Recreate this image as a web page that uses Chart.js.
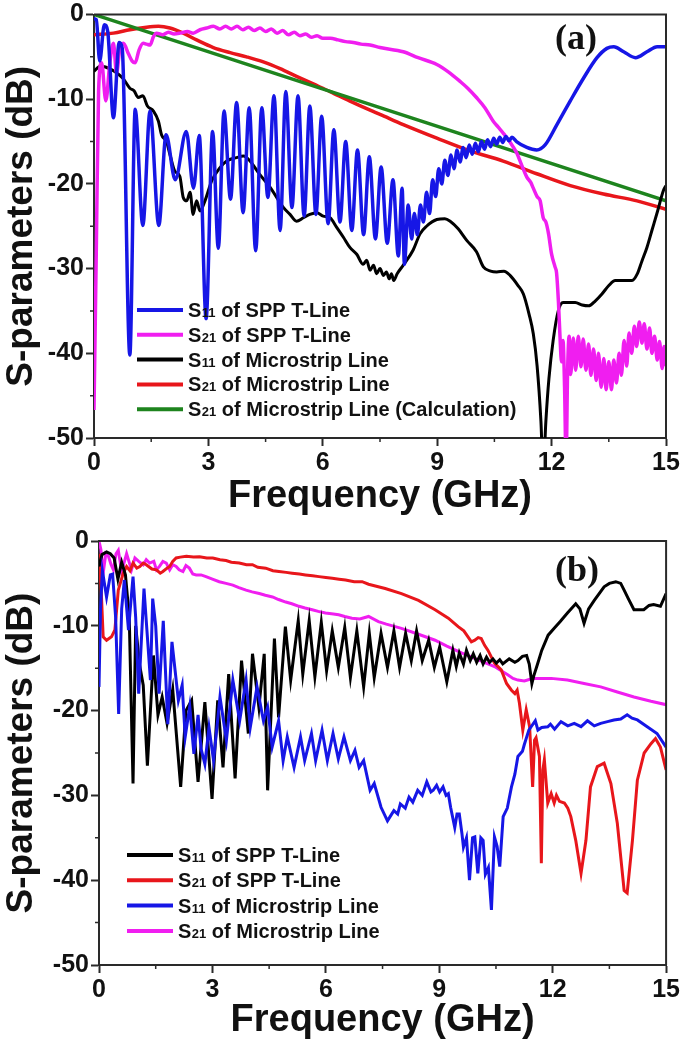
<!DOCTYPE html>
<html>
<head>
<meta charset="utf-8">
<script src="https://cdn.jsdelivr.net/npm/chart.js@4.4.1/dist/chart.umd.min.js"></script>
<style>
  html, body { margin: 0; padding: 0; background: #fff; }
  #wrap { position: relative; width: 685px; height: 1044px; }
  #chartA { position: absolute; left: 0; top: 0; }
  #chartB { position: absolute; left: 0; top: 520px; }
</style>
</head>
<body>
<div id="wrap">
  <canvas id="chartA" width="685" height="520"></canvas>
  <canvas id="chartB" width="685" height="524"></canvas>
</div>
<script>
// axis ticks
const xTicks = [0, 3, 6, 9, 12, 15];
const yTicks = [0, -10, -20, -30, -40, -50];
const xMinor = [1.5, 4.5, 7.5, 10.5, 13.5];
const yMinor = [-5, -15, -25, -35, -45];

// legend text: "S" + subscript + rest
const legendSubA = ["11", "21", "11", "21", "21"];
const legendRestA = [" of SPP T-Line", " of SPP T-Line", " of Microstrip Line", " of Microstrip Line", " of Microstrip Line (Calculation)"];
const legendSubB = ["11", "21", "11", "21"];
const legendRestB = [" of SPP T-Line", " of SPP T-Line", " of Microstrip Line", " of Microstrip Line"];

// ---- panel (a) : [GHz, dB]
const aS11Spp = [[0.00,-0.5],[0.06,-0.6],[0.15,-5.5],[0.27,-1.2],[0.36,-2.0],[0.51,-12.2],[0.66,-3.3],[0.74,-4.0],[0.94,-40.2],[1.08,-11.2],[1.28,-24.9],[1.47,-11.4],[1.70,-24.9],[1.89,-14.2],[2.13,-19.5],[2.42,-13.8],[2.61,-20.5],[2.76,-14.3],[2.94,-35.9],[3.11,-13.8],[3.26,-27.6],[3.41,-11.4],[3.58,-21.8],[3.74,-10.4],[3.91,-23.4],[4.07,-11.0],[4.24,-27.9],[4.40,-11.0],[4.56,-21.6],[4.72,-9.6],[4.88,-25.5],[5.03,-9.1],[5.19,-22.8],[5.35,-9.6],[5.51,-23.8],[5.66,-10.8],[5.82,-23.6],[5.97,-12.0],[6.14,-24.7],[6.29,-13.6],[6.45,-24.5],[6.60,-15.0],[6.76,-25.5],[6.91,-16.0],[7.07,-26.0],[7.22,-16.8],[7.38,-26.5],[7.53,-18.0],[7.69,-27.0],[7.84,-19.5],[7.98,-28.5],[8.08,-20.5],[8.14,-29.5],[8.24,-22.5],[8.33,-26.5],[8.40,-23.5],[8.48,-26.0],[8.56,-22.5],[8.64,-24.5],[8.72,-21.0],[8.80,-23.5],[8.88,-19.5],[8.96,-21.5],[9.04,-18.2],[9.12,-20.0],[9.20,-17.2],[9.28,-19.0],[9.36,-16.6],[9.44,-18.2],[9.52,-16.0],[9.60,-17.4],[9.68,-15.7],[9.76,-16.9],[9.84,-15.4],[9.92,-16.5],[10.00,-15.2],[10.08,-16.2],[10.16,-15.0],[10.24,-15.9],[10.32,-14.8],[10.40,-15.6],[10.48,-14.6],[10.56,-15.3],[10.64,-14.5],[10.72,-15.1],[10.80,-14.4],[10.88,-14.9],[10.96,-14.5],[11.08,-15.0],[11.35,-15.7],[11.61,-16.0],[11.83,-15.4],[12.14,-13.0],[12.49,-10.2],[12.84,-7.5],[13.19,-5.1],[13.45,-4.0],[13.63,-3.8],[13.89,-4.4],[14.20,-5.1],[14.50,-4.4],[14.77,-3.8],[15.00,-3.8]];

const aS21Spp = [[0.00,-46.7],[0.06,-28.0],[0.12,-9.0],[0.20,-5.7],[0.31,-10.2],[0.42,-5.5],[0.51,-3.4],[0.59,-6.9],[0.68,-4.0],[0.77,-3.4],[0.90,-4.6],[1.00,-5.5],[1.08,-5.7],[1.18,-4.2],[1.29,-3.4],[1.38,-3.5],[1.47,-3.6],[1.56,-2.6],[1.64,-2.2],[1.80,-2.4],[1.95,-2.1],[2.10,-2.3],[2.26,-2.2],[2.45,-2.0],[2.60,-2.2],[2.78,-1.8],[2.95,-1.6],[3.13,-1.4],[3.30,-1.7],[3.45,-1.4],[3.60,-1.7],[3.75,-1.4],[3.90,-1.8],[4.05,-1.5],[4.20,-1.9],[4.35,-1.6],[4.50,-2.0],[4.65,-1.7],[4.80,-2.2],[4.95,-1.9],[5.10,-2.4],[5.25,-2.1],[5.40,-2.5],[5.55,-2.3],[5.70,-2.7],[5.85,-2.5],[6.00,-2.8],[6.20,-2.8],[6.40,-3.0],[6.60,-3.2],[6.80,-3.3],[7.00,-3.5],[7.24,-3.6],[7.50,-3.9],[8.11,-4.4],[8.50,-5.1],[8.99,-5.9],[9.30,-6.8],[9.60,-7.9],[9.80,-8.7],[10.03,-9.8],[10.25,-11.0],[10.47,-12.6],[10.60,-13.3],[10.73,-14.0],[10.90,-15.0],[11.08,-16.3],[11.20,-17.6],[11.35,-19.2],[11.45,-19.8],[11.52,-20.5],[11.62,-21.5],[11.70,-22.0],[11.78,-24.0],[11.85,-24.5],[11.92,-25.9],[12.00,-28.3],[12.09,-29.8],[12.13,-30.5],[12.18,-34.0],[12.22,-38.0],[12.26,-41.0],[12.30,-38.5],[12.34,-44.0],[12.38,-53.0],[12.42,-42.0],[12.46,-38.0],[12.50,-42.5],[12.57,-38.2],[12.63,-42.0],[12.70,-38.0],[12.77,-41.6],[12.83,-38.3],[12.90,-42.0],[12.97,-38.9],[13.03,-42.6],[13.10,-39.5],[13.17,-43.2],[13.23,-40.0],[13.30,-44.0],[13.37,-40.6],[13.43,-44.3],[13.50,-41.0],[13.57,-44.3],[13.63,-40.8],[13.70,-43.5],[13.77,-40.0],[13.83,-42.6],[13.90,-38.5],[13.97,-41.5],[14.03,-37.6],[14.10,-40.0],[14.17,-36.8],[14.23,-39.2],[14.30,-36.3],[14.37,-38.8],[14.43,-36.5],[14.50,-39.5],[14.57,-37.0],[14.63,-40.0],[14.70,-38.0],[14.77,-40.8],[14.83,-38.6],[14.90,-41.8],[14.95,-39.2],[15.00,-41.5]];

const aS11Ms = [[0.00,-6.7],[0.16,-6.1],[0.30,-6.2],[0.45,-6.5],[0.60,-6.9],[0.77,-7.6],[0.94,-8.7],[1.05,-9.0],[1.16,-9.8],[1.28,-9.6],[1.40,-10.8],[1.56,-11.4],[1.69,-12.6],[1.77,-14.2],[1.90,-15.0],[1.99,-16.5],[2.12,-18.5],[2.25,-19.1],[2.34,-21.6],[2.43,-22.0],[2.52,-21.0],[2.60,-23.6],[2.69,-22.0],[2.78,-23.2],[2.91,-22.0],[3.09,-19.6],[3.30,-18.1],[3.48,-17.3],[3.74,-16.9],[3.92,-16.7],[4.09,-17.3],[4.35,-18.9],[4.62,-20.4],[4.79,-21.6],[4.97,-22.8],[5.14,-23.6],[5.31,-24.4],[5.49,-24.0],[5.66,-23.6],[5.84,-23.4],[6.01,-23.8],[6.19,-24.0],[6.36,-25.1],[6.54,-26.3],[6.71,-27.5],[6.89,-28.3],[7.06,-29.5],[7.15,-29.0],[7.24,-30.2],[7.33,-29.6],[7.41,-30.6],[7.50,-30.0],[7.59,-30.8],[7.67,-30.4],[7.74,-31.2],[7.80,-30.6],[7.86,-31.4],[7.95,-30.6],[8.11,-29.6],[8.37,-27.8],[8.55,-25.9],[8.72,-25.0],[8.99,-24.2],[9.20,-24.1],[9.34,-24.4],[9.55,-25.3],[9.78,-26.7],[10.03,-28.0],[10.21,-29.8],[10.40,-30.3],[10.56,-30.4],[10.75,-30.3],[10.91,-30.8],[11.12,-32.0],[11.26,-33.0],[11.41,-35.4],[11.52,-37.7],[11.62,-41.5],[11.72,-48.0],[11.78,-54.0],[11.85,-48.0],[11.93,-43.0],[12.04,-38.5],[12.18,-34.9],[12.30,-34.0],[12.44,-34.0],[12.62,-34.0],[12.80,-34.3],[12.97,-34.4],[13.15,-33.8],[13.32,-33.0],[13.50,-32.0],[13.67,-31.4],[13.90,-31.4],[14.11,-31.4],[14.25,-30.6],[14.37,-29.1],[14.50,-27.5],[14.63,-25.5],[14.78,-23.2],[14.93,-20.8],[15.00,-20.2]];

const aS21Ms = [[0.00,-2.4],[0.51,-2.2],[0.94,-1.8],[1.38,-1.5],[1.69,-1.4],[1.99,-1.6],[2.34,-2.2],[2.69,-3.0],[3.13,-3.9],[3.57,-4.5],[4.00,-5.0],[4.44,-5.6],[4.88,-6.4],[5.31,-7.3],[5.75,-8.2],[6.19,-9.1],[6.70,-10.2],[7.24,-11.3],[7.50,-11.8],[8.11,-13.0],[8.99,-14.6],[9.86,-16.1],[10.73,-17.3],[11.61,-18.8],[12.49,-20.2],[13.36,-21.2],[14.24,-22.0],[15.00,-23.0]];

const aS21Calc = [[0.00,0.0],[7.50,-11.0],[15.00,-22.0]];

// ---- panel (b) : [GHz, dB]
const bS11Spp = [[0.00,-3.0],[0.08,-1.6],[0.20,-1.3],[0.30,-1.5],[0.40,-2.0],[0.50,-4.5],[0.60,-2.5],[0.70,-4.0],[0.80,-9.0],[0.90,-28.6],[0.97,-10.0],[1.07,-14.5],[1.17,-17.0],[1.28,-26.5],[1.44,-13.5],[1.56,-20.5],[1.67,-18.4],[1.80,-21.5],[1.95,-17.5],[2.16,-29.0],[2.30,-20.0],[2.45,-18.8],[2.62,-28.4],[2.80,-19.0],[2.99,-30.4],[3.14,-18.8],[3.28,-26.7],[3.43,-15.7],[3.60,-28.0],[3.77,-14.1],[3.95,-22.7],[4.06,-13.3],[4.23,-19.6],[4.37,-13.3],[4.46,-29.4],[4.64,-11.5],[4.75,-20.8],[4.93,-10.1],[5.07,-16.4],[5.27,-9.4],[5.39,-15.7],[5.56,-9.4],[5.71,-16.0],[5.88,-9.6],[6.02,-15.3],[6.17,-10.6],[6.33,-14.9],[6.50,-10.2],[6.65,-16.1],[6.82,-10.6],[7.00,-17.2],[7.15,-10.9],[7.28,-16.1],[7.46,-10.9],[7.63,-14.9],[7.80,-10.6],[7.95,-14.9],[8.11,-10.9],[8.26,-14.1],[8.40,-10.6],[8.55,-14.1],[8.72,-11.7],[8.87,-14.9],[9.01,-12.5],[9.20,-16.6],[9.36,-12.9],[9.45,-14.8],[9.53,-13.2],[9.64,-14.5],[9.72,-12.9],[9.82,-14.1],[9.90,-13.3],[9.99,-14.3],[10.08,-13.5],[10.16,-14.5],[10.25,-13.7],[10.33,-14.3],[10.42,-13.9],[10.51,-14.4],[10.60,-14.0],[10.68,-14.5],[10.85,-13.9],[11.00,-14.3],[11.08,-14.1],[11.20,-13.6],[11.31,-13.5],[11.38,-14.5],[11.45,-16.8],[11.50,-15.9],[11.60,-14.5],[11.71,-12.9],[11.88,-11.1],[12.04,-10.3],[12.20,-9.5],[12.39,-8.5],[12.61,-7.4],[12.72,-8.0],[12.83,-9.7],[12.95,-8.0],[13.10,-7.0],[13.36,-5.4],[13.50,-5.0],[13.67,-4.8],[13.80,-5.0],[13.89,-5.8],[14.00,-6.8],[14.15,-8.1],[14.41,-8.1],[14.55,-7.6],[14.67,-7.5],[14.85,-7.7],[15.00,-6.2]];

const bS21Spp = [[0.00,-1.5],[0.06,-6.0],[0.11,-11.3],[0.20,-11.7],[0.33,-11.3],[0.42,-10.5],[0.51,-5.8],[0.64,-3.8],[0.73,-3.0],[0.82,-3.5],[0.90,-2.6],[1.00,-3.2],[1.08,-3.0],[1.17,-2.6],[1.25,-2.8],[1.40,-3.3],[1.52,-3.4],[1.62,-3.8],[1.69,-3.6],[1.80,-3.2],[1.87,-3.0],[1.95,-2.4],[2.04,-2.0],[2.15,-1.9],[2.31,-1.8],[2.50,-1.9],[2.66,-1.85],[2.85,-2.0],[3.01,-2.0],[3.20,-2.2],[3.36,-2.3],[3.50,-2.5],[3.71,-2.6],[3.90,-2.8],[4.06,-2.8],[4.20,-3.1],[4.41,-3.2],[4.60,-3.5],[4.76,-3.6],[4.95,-3.7],[5.11,-3.8],[5.30,-3.9],[5.46,-4.0],[5.65,-4.1],[5.82,-4.2],[6.00,-4.3],[6.17,-4.4],[6.35,-4.5],[6.52,-4.6],[6.75,-4.8],[6.96,-4.8],[7.13,-5.1],[7.31,-5.3],[7.57,-5.6],[8.00,-6.2],[8.45,-7.0],[8.89,-8.1],[9.24,-9.1],[9.50,-10.1],[9.65,-10.6],[9.76,-11.3],[9.85,-11.9],[9.94,-11.7],[10.03,-11.4],[10.11,-11.5],[10.20,-12.3],[10.29,-12.9],[10.46,-14.4],[10.64,-15.2],[10.78,-16.8],[10.91,-17.6],[11.00,-18.0],[11.06,-17.6],[11.12,-19.1],[11.21,-22.3],[11.30,-19.9],[11.39,-21.9],[11.47,-29.0],[11.52,-23.5],[11.56,-23.2],[11.65,-25.4],[11.70,-38.0],[11.74,-27.0],[11.78,-25.8],[11.87,-30.9],[11.96,-29.8],[12.04,-30.9],[12.10,-30.0],[12.18,-30.7],[12.31,-30.9],[12.40,-31.5],[12.48,-32.5],[12.61,-35.3],[12.75,-39.2],[12.88,-35.3],[13.00,-29.0],[13.18,-26.6],[13.36,-26.2],[13.54,-28.6],[13.71,-33.3],[13.89,-41.2],[13.97,-41.5],[14.11,-35.3],[14.24,-28.2],[14.42,-25.0],[14.60,-23.9],[14.72,-23.3],[14.85,-24.3],[15.00,-27.0]];

const bS11Ms = [[0.00,-17.2],[0.04,-8.0],[0.09,-3.5],[0.20,-6.6],[0.30,-4.0],[0.36,-3.9],[0.44,-9.0],[0.52,-20.4],[0.60,-8.0],[0.67,-4.6],[0.78,-10.5],[0.90,-4.2],[0.97,-9.0],[1.05,-18.0],[1.19,-5.6],[1.36,-16.4],[1.42,-6.8],[1.50,-10.0],[1.59,-18.0],[1.70,-9.4],[1.82,-21.6],[1.93,-11.9],[2.10,-18.8],[2.20,-17.0],[2.28,-23.1],[2.40,-19.5],[2.51,-25.1],[2.62,-20.5],[2.70,-24.5],[2.80,-26.3],[2.91,-22.0],[3.03,-25.9],[3.20,-18.4],[3.37,-23.5],[3.54,-16.4],[3.72,-21.2],[3.89,-16.4],[4.00,-22.0],[4.18,-17.2],[4.35,-21.2],[4.46,-19.6],[4.58,-24.3],[4.75,-21.2],[4.87,-25.9],[4.98,-23.1],[5.16,-26.7],[5.33,-23.1],[5.44,-25.9],[5.62,-22.7],[5.73,-25.9],[5.90,-22.3],[6.04,-25.9],[6.19,-22.7],[6.33,-25.7],[6.48,-23.1],[6.65,-25.9],[6.77,-24.7],[6.88,-26.7],[7.00,-25.9],[7.17,-29.4],[7.28,-28.6],[7.46,-31.4],[7.63,-33.0],[7.70,-32.5],[7.80,-31.8],[7.90,-32.2],[7.97,-31.0],[8.10,-31.5],[8.20,-30.2],[8.30,-30.8],[8.43,-29.4],[8.55,-30.0],[8.67,-28.4],[8.78,-29.6],[8.84,-29.4],[8.93,-28.8],[9.01,-29.6],[9.10,-29.0],[9.18,-30.0],[9.24,-29.8],[9.30,-31.4],[9.41,-33.8],[9.47,-32.2],[9.53,-32.2],[9.60,-34.5],[9.64,-36.1],[9.72,-35.0],[9.80,-40.0],[9.88,-35.0],[9.94,-34.9],[10.02,-39.2],[10.10,-35.0],[10.16,-35.3],[10.22,-39.3],[10.30,-38.5],[10.38,-43.5],[10.46,-34.9],[10.53,-36.0],[10.60,-38.4],[10.69,-32.5],[10.80,-31.5],[10.91,-29.0],[11.00,-27.5],[11.08,-25.4],[11.20,-24.8],[11.25,-24.0],[11.37,-22.3],[11.43,-21.9],[11.54,-21.2],[11.61,-22.3],[11.71,-22.0],[11.87,-21.9],[11.94,-21.6],[12.05,-22.2],[12.22,-21.3],[12.40,-21.8],[12.57,-21.5],[12.75,-21.9],[12.92,-21.2],[13.10,-21.8],[13.27,-21.5],[13.45,-21.3],[13.62,-21.1],[13.80,-21.0],[13.97,-20.5],[14.10,-20.9],[14.24,-21.1],[14.50,-21.9],[14.76,-22.7],[15.00,-24.3]];

const bS21Ms = [[0.00,0.0],[0.05,-1.0],[0.11,-3.8],[0.18,-1.5],[0.25,-1.8],[0.32,-2.8],[0.38,-3.4],[0.45,-1.5],[0.51,-1.1],[0.60,-3.6],[0.73,-1.5],[0.86,-3.4],[0.95,-2.0],[1.05,-2.4],[1.17,-2.8],[1.25,-2.2],[1.34,-2.6],[1.45,-2.4],[1.52,-3.4],[1.60,-3.0],[1.69,-2.4],[1.78,-2.6],[1.87,-3.4],[1.95,-2.8],[2.04,-3.0],[2.12,-3.4],[2.22,-3.6],[2.30,-2.9],[2.39,-3.2],[2.48,-3.9],[2.57,-4.0],[2.70,-4.0],[2.83,-4.2],[3.00,-4.5],[3.18,-4.8],[3.36,-5.0],[3.54,-5.2],[3.70,-5.5],[3.89,-5.8],[4.05,-6.0],[4.24,-6.2],[4.40,-6.4],[4.59,-6.6],[4.75,-6.9],[4.94,-7.2],[5.10,-7.4],[5.29,-7.7],[5.45,-7.9],[5.64,-8.1],[5.80,-8.3],[5.99,-8.5],[6.20,-8.6],[6.34,-8.7],[6.50,-8.9],[6.69,-9.1],[6.90,-9.2],[7.13,-8.9],[7.39,-9.5],[7.60,-9.8],[8.00,-10.3],[8.45,-11.0],[8.89,-11.7],[9.20,-12.4],[9.59,-13.2],[10.02,-14.0],[10.46,-14.8],[10.64,-15.3],[10.82,-15.8],[10.95,-16.2],[11.08,-16.4],[11.25,-16.5],[11.40,-16.3],[11.52,-16.2],[11.96,-16.2],[12.39,-16.4],[12.83,-16.8],[13.27,-17.2],[13.71,-17.8],[14.15,-18.4],[14.60,-18.9],[15.00,-19.3]];

const BLUE = "#1616e6", PINK = "#f01ef0", BLACK = "#000000", RED = "#e8161b", GREEN = "#1e841e";
const AXIS = "#2a2a2a";
const SANS = "'Liberation Sans', Arial, sans-serif";

const toXY = pairs => pairs.map(([x, y]) => ({ x, y }));

function ds(label, pairs, color, width, order, smooth) {
  return { label, data: toXY(pairs), borderColor: color, backgroundColor: color,
    borderWidth: width, pointRadius: 0, tension: 0, fill: false, order,
    cubicInterpolationMode: smooth ? "monotone" : "default" };
}

// frame, minor ticks, inner legend and panel label
const decor = {
  id: "decor",
  afterDraw(chart, args, o) {
    const { ctx, chartArea: a, scales: { x, y } } = chart;
    ctx.save();
    ctx.strokeStyle = AXIS;
    ctx.lineWidth = 2;
    ctx.beginPath();
    ctx.moveTo(a.left, a.top); ctx.lineTo(a.right, a.top); ctx.lineTo(a.right, a.bottom);
    ctx.stroke();
    ctx.lineWidth = 1.5;
    ctx.beginPath();
    xMinor.forEach(v => { const px = x.getPixelForValue(v); ctx.moveTo(px, a.bottom); ctx.lineTo(px, a.bottom + 4); });
    yMinor.forEach(v => { const py = y.getPixelForValue(v); ctx.moveTo(a.left, py); ctx.lineTo(a.left - 4, py); });
    ctx.stroke();

    // legend
    chart.data.datasets.forEach((d, i) => {
      const ly = o.ly + i * o.gap;
      ctx.strokeStyle = d.borderColor;
      ctx.lineWidth = 4;
      ctx.beginPath(); ctx.moveTo(o.lx, ly); ctx.lineTo(o.lx + 46, ly); ctx.stroke();
      ctx.fillStyle = "#111";
      ctx.textBaseline = "alphabetic";
      ctx.textAlign = "left";
      let tx = o.lx + 51;
      const base = ly + 7;
      ctx.font = "bold 20px " + SANS;
      ctx.fillText("S", tx, base); tx += ctx.measureText("S").width + 0.5;
      ctx.font = "bold 13px " + SANS;
      ctx.fillText(o.subs[i], tx, base); tx += ctx.measureText(o.subs[i]).width;
      ctx.font = "bold 20px " + SANS;
      ctx.fillText(o.rests[i], tx, base);
    });

    ctx.font = "bold 36px 'Liberation Serif', 'Times New Roman', serif";
    ctx.fillStyle = "#111";
    ctx.textAlign = "center";
    ctx.textBaseline = "middle";
    ctx.fillText(o.panel, o.px, o.py);
    ctx.restore();
  }
};

function makeOptions(cfg) {
  return {
    responsive: false,
    animation: false,
    devicePixelRatio: 1,
    layout: { padding: { left: 0, top: cfg.top, right: cfg.right, bottom: 0 } },
    plugins: {
      legend: { display: false },
      tooltip: { enabled: false },
      decor: cfg.decor
    },
    scales: {
      x: {
        type: "linear", min: 0, max: 15,
        afterBuildTicks: s => { s.ticks = xTicks.map(v => ({ value: v })); },
        ticks: { autoSkip: false, maxRotation: 0, padding: 5, color: "#111",
          font: { family: SANS, size: 25, weight: "bold", lineHeight: 1 } },
        grid: { drawOnChartArea: false, drawTicks: true, tickLength: 8, tickWidth: 2, tickColor: AXIS },
        border: { display: true, color: AXIS, width: 2 },
        title: { display: true, text: "Frequency (GHz)", color: "#111",
          font: { family: SANS, size: 38, weight: "bold", lineHeight: 1 }, padding: { top: 0, bottom: 4 } },
        afterFit: s => { s.height = cfg.xh; }
      },
      y: {
        type: "linear", min: -50, max: 0,
        afterBuildTicks: s => { s.ticks = yTicks.map(v => ({ value: v })); },
        ticks: { autoSkip: false, padding: 2, color: "#111",
          font: { family: SANS, size: 25, weight: "bold", lineHeight: 1 } },
        grid: { drawOnChartArea: false, drawTicks: true, tickLength: 8, tickWidth: 2, tickColor: AXIS },
        border: { display: true, color: AXIS, width: 2 },
        title: { display: true, text: "S-parameters (dB)", color: "#111",
          font: { family: SANS, size: 37, weight: "bold", lineHeight: 1 }, padding: { top: 3, bottom: 0 } },
        afterFit: s => { s.width = cfg.yw; }
      }
    }
  };
}

new Chart(document.getElementById("chartA").getContext("2d"), {
  type: "line",
  data: {
    datasets: [
      ds("S11 of SPP T-Line", aS11Spp, BLUE, 3.5, 0, true),
      ds("S21 of SPP T-Line", aS21Spp, PINK, 3.5, 1, true),
      ds("S11 of Microstrip Line", aS11Ms, BLACK, 3, 2, true),
      ds("S21 of Microstrip Line", aS21Ms, RED, 3.5, 4, true),
      ds("S21 of Microstrip Line (Calculation)", aS21Calc, GREEN, 3.5, 3, false)
    ]
  },
  options: makeOptions({ top: 13, right: 19, xh: 82, yw: 94,
    decor: { lx: 137, ly: 310, gap: 24.8, subs: legendSubA, rests: legendRestA, panel: "(a)", px: 576, py: 40 } }),
  plugins: [decor]
});

new Chart(document.getElementById("chartB").getContext("2d"), {
  type: "line",
  data: {
    datasets: [
      ds("S11 of SPP T-Line", bS11Spp, BLACK, 3, 1, false),
      ds("S21 of SPP T-Line", bS21Spp, RED, 3, 2, false),
      ds("S11 of Microstrip Line", bS11Ms, BLUE, 3, 0, false),
      ds("S21 of Microstrip Line", bS21Ms, PINK, 3, 3, false)
    ]
  },
  options: makeOptions({ top: 21, right: 16, xh: 79, yw: 99,
    decor: { lx: 127, ly: 335, gap: 25.3, subs: legendSubB, rests: legendRestB, panel: "(b)", px: 577, py: 52 } }),
  plugins: [decor]
});
</script>
</body>
</html>
